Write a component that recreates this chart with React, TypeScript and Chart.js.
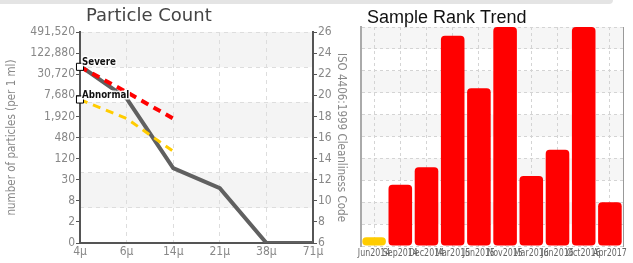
import React, { useEffect, useRef } from 'react';
import { Chart, registerables } from 'chart.js';

Chart.register(...registerables);

// ---------- Particle Count data ----------
const sizeLabels = ['4μ', '6μ', '14μ', '21μ', '38μ', '71μ'];
const isoCodeTicks = [6, 8, 10, 12, 14, 16, 18, 20, 22, 24, 26];
const particleTickLabels = ['0', '2', '8', '30', '120', '480', '1,920', '7,680', '30,720', '122,880', '491,520'];
const sampleCodes = [22.8, 19.7, 13.1, 11.2, 6, 6];
const severeLimit = [22.7, 20.3, 17.8];
const abnormalLimit = [19.6, 17.8, 14.7];

// ---------- Sample Rank Trend data ----------
const rankDates = ['Jun2014', 'Sep2014', 'Dec2014', 'Mar2015', 'Jun2015', 'Nov2015', 'Mar2016', 'Jun2016', 'Oct2016', 'Apr2017'];
const rankValues = [0.4, 2.8, 3.6, 9.6, 7.2, 10, 3.2, 4.4, 10, 2];
const rankStatus = ['Abnormal', 'Severe', 'Severe', 'Severe', 'Severe', 'Severe', 'Severe', 'Severe', 'Severe', 'Severe'];

const statusColor: Record<string, string> = { Abnormal: '#ffcc00', Severe: '#ff0000' };

const NARROW = "'DejaVu Sans Condensed', 'DejaVu Sans', sans-serif";

const bandPlugin = {
  id: 'bands',
  beforeDraw(chart: any, _args: any, opts: any) {
    const scale = chart.scales[opts.scaleId];
    if (!scale) return;
    const { ctx, chartArea } = chart;
    ctx.save();
    ctx.fillStyle = opts.color;
    const ticks = scale.ticks.map((t: any) => t.value);
    for (let i = 0; i < ticks.length - 1; i++) {
      const lo = Math.min(ticks[i], ticks[i + 1]);
      const hi = Math.max(ticks[i], ticks[i + 1]);
      if (Math.round(lo) % 2 === 1) {
        const y1 = scale.getPixelForValue(hi);
        const y2 = scale.getPixelForValue(lo);
        ctx.fillRect(chartArea.left, y1, chartArea.right - chartArea.left, y2 - y1);
      }
    }
    ctx.restore();
  },
};

const titlePlugin = {
  id: 'titleText',
  afterDraw(chart: any, _args: any, opts: any) {
    if (!opts.text) return;
    const { ctx } = chart;
    ctx.save();
    ctx.font = opts.font;
    ctx.fillStyle = opts.color;
    ctx.textBaseline = 'alphabetic';
    ctx.textAlign = 'left';
    ctx.fillText(opts.text, chart.chartArea.left + opts.dx, opts.y);
    ctx.restore();
  },
};

// Draws the category labels of the x scale in a horizontally compressed face
const narrowXLabelsPlugin = {
  id: 'narrowXLabels',
  afterDraw(chart: any, _args: any, opts: any) {
    if (!opts.enabled) return;
    const { ctx, chartArea } = chart;
    const xs = chart.scales.x;
    const labels = chart.data.labels as string[];
    ctx.save();
    ctx.font = opts.font;
    ctx.fillStyle = opts.color;
    ctx.textAlign = 'center';
    ctx.textBaseline = 'top';
    labels.forEach((lab, i) => {
      const x = xs.getPixelForTick(i);
      ctx.save();
      ctx.translate(x, chartArea.bottom + opts.gap);
      ctx.scale(opts.squeeze, 1);
      ctx.fillText(lab, 0, 0);
      ctx.restore();
    });
    ctx.restore();
  },
};

const markerLabelPlugin = {
  id: 'markerLabels',
  afterDatasetsDraw(chart: any) {
    const { ctx } = chart;
    chart.data.datasets.forEach((ds: any, i: number) => {
      if (!ds.markerLabel) return;
      const pt = chart.getDatasetMeta(i).data[0];
      if (!pt) return;
      ctx.save();
      ctx.font = `bold 10.5px ${NARROW}`;
      ctx.textBaseline = 'alphabetic';
      ctx.textAlign = 'left';
      ctx.lineJoin = 'round';
      ctx.lineWidth = 3;
      ctx.strokeStyle = 'rgba(255,255,255,0.9)';
      ctx.translate(pt.x + 2, pt.y - 2);
      ctx.scale(0.92, 1);
      ctx.strokeText(ds.label, 0, 0);
      ctx.fillStyle = '#111';
      ctx.fillText(ds.label, 0, 0);
      ctx.restore();
    });
  },
};

function ParticleChart() {
  const ref = useRef<HTMLCanvasElement>(null);
  useEffect(() => {
    const canvas = ref.current!;
    const chart = new Chart(canvas, {
      type: 'line',
      data: {
        labels: sizeLabels,
        datasets: [
          {
            label: 'Abnormal',
            data: abnormalLimit,
            borderColor: '#ffcc00',
            borderWidth: 3,
            borderDash: [8, 6],
            pointRadius: [5, 0, 0],
            pointStyle: 'rect',
            pointBackgroundColor: '#fff',
            pointBorderColor: '#000',
            pointBorderWidth: 1,
            yAxisID: 'y',
            order: 0,
            markerLabel: true,
          } as any,
          {
            label: 'Severe',
            data: severeLimit,
            borderColor: '#ff0000',
            borderWidth: 4,
            borderDash: [8, 6],
            pointRadius: [5, 0, 0],
            pointStyle: 'rect',
            pointBackgroundColor: '#fff',
            pointBorderColor: '#000',
            pointBorderWidth: 1,
            yAxisID: 'y',
            order: 1,
            markerLabel: true,
          } as any,
          {
            label: 'Sample',
            data: sampleCodes,
            borderColor: '#606060',
            borderWidth: 4,
            pointRadius: 0,
            yAxisID: 'y',
            order: 2,
          },
        ],
      },
      options: {
        responsive: false,
        animation: false,
        layout: { padding: { top: 32, left: 0, right: 0, bottom: 0 } },
        plugins: {
          legend: { display: false },
          tooltip: { enabled: false },
          title: { display: false },
          bands: { scaleId: 'g', color: '#f4f4f4' },
          titleText: { text: 'Particle Count', font: "18px 'DejaVu Sans', sans-serif", color: '#444', dx: 6, y: 21 },
        } as any,
        scales: {
          g: {
            type: 'linear',
            position: 'left',
            min: 0,
            max: 6,
            ticks: { display: false, stepSize: 1 },
            grid: { color: '#dddddd', drawTicks: false },
            border: { display: false, dash: [4, 4] },
            afterFit: (s: any) => { s.width = 0; },
          },
          y: {
            type: 'linear',
            position: 'left',
            min: 6,
            max: 26,
            ticks: {
              stepSize: 2,
              color: '#888',
              padding: 1,
              font: { family: NARROW, size: 12 },
              callback: (v: any) => particleTickLabels[isoCodeTicks.indexOf(Number(v))],
            },
            grid: { drawOnChartArea: false, drawTicks: true, tickLength: 4, color: '#555' },
            border: { color: '#555', width: 2 },
            title: {
              display: true,
              text: 'number of particles (per 1 ml)',
              color: '#888',
              font: { family: NARROW, size: 11.5 },
              padding: 5,
            },
            afterFit: (s: any) => { s.width = 80; },
          },
          y2: {
            type: 'linear',
            position: 'right',
            min: 6,
            max: 26,
            ticks: {
              stepSize: 2,
              color: '#888',
              padding: 1,
              font: { family: NARROW, size: 12 },
            },
            grid: { drawOnChartArea: false, drawTicks: true, tickLength: 4, color: '#555' },
            border: { color: '#555', width: 2 },
            title: {
              display: true,
              text: 'ISO 4406:1999 Cleanliness Code',
              color: '#888',
              font: { family: NARROW, size: 11.5 },
              padding: 4,
            },
            afterFit: (s: any) => { s.width = 39; },
          },
          x: {
            type: 'category',
            offset: false,
            ticks: { color: '#888', padding: 2, font: { family: NARROW, size: 12 }, maxRotation: 0, autoSkip: false },
            grid: { color: '#dddddd', drawTicks: false },
            border: { color: '#555', width: 2, dash: [4, 4] },
            afterFit: (s: any) => { s.height = 20; },
          },
        },
      } as any,
      plugins: [bandPlugin, titlePlugin, markerLabelPlugin],
    });
    return () => chart.destroy();
  }, []);
  return <canvas ref={ref} width={352} height={263} style={{ position: 'absolute', left: 0, top: 0 }} />;
}

function RankChart() {
  const ref = useRef<HTMLCanvasElement>(null);
  useEffect(() => {
    const canvas = ref.current!;
    const chart = new Chart(canvas, {
      type: 'bar',
      data: {
        labels: rankDates,
        datasets: [
          {
            label: 'Sample Rank',
            data: rankValues,
            backgroundColor: rankStatus.map((s) => statusColor[s]),
            borderRadius: 4,
            borderSkipped: false,
            barPercentage: 0.9,
            categoryPercentage: 1,
          },
        ],
      },
      options: {
        responsive: false,
        animation: false,
        layout: { padding: { top: 27, left: 9, right: 10, bottom: 0 } },
        plugins: {
          legend: { display: false },
          tooltip: { enabled: false },
          bands: { scaleId: 'y', color: '#f6f6f6' },
          titleText: { text: 'Sample Rank Trend', font: "18px 'Liberation Sans', Arial, sans-serif", color: '#111', dx: 6, y: 23 },
          narrowXLabels: { enabled: true, font: `11px ${NARROW}`, color: '#666', gap: 2, squeeze: 0.8 },
        } as any,
        scales: {
          x: {
            type: 'category',
            offset: true,
            ticks: { display: false, autoSkip: false },
            grid: { offset: false, color: '#d4d4d4', drawTicks: false },
            border: { display: false, dash: [3, 3] },
            afterFit: (s: any) => { s.height = 17; },
          },
          y: {
            type: 'linear',
            position: 'left',
            min: 0,
            max: 10,
            ticks: { display: false, stepSize: 1 },
            grid: { color: '#d4d4d4', drawTicks: false },
            border: { color: '#aaa', width: 2, dash: [3, 3] },
            afterFit: (s: any) => { s.width = 0; },
          },
          yR: {
            type: 'linear',
            position: 'right',
            min: 0,
            max: 10,
            ticks: { display: false },
            grid: { display: false, drawTicks: false },
            border: { color: '#999', width: 1 },
            afterFit: (s: any) => { s.width = 0; },
          },
        },
      } as any,
      plugins: [bandPlugin, titlePlugin, narrowXLabelsPlugin],
    });
    return () => chart.destroy();
  }, []);
  return <canvas ref={ref} width={281} height={263} style={{ position: 'absolute', left: 352, top: 0 }} />;
}

export default function App() {
  return (
    <div style={{ position: 'absolute', left: 0, top: 0, width: 633, height: 263, background: '#fff', overflow: 'hidden' }}>
      <ParticleChart />
      <RankChart />
      <div
        style={{
          position: 'absolute',
          left: 0,
          top: 0,
          width: 613,
          height: 4,
          background: '#e4e4e4',
          borderBottomRightRadius: 4,
        }}
      />
    </div>
  );
}
